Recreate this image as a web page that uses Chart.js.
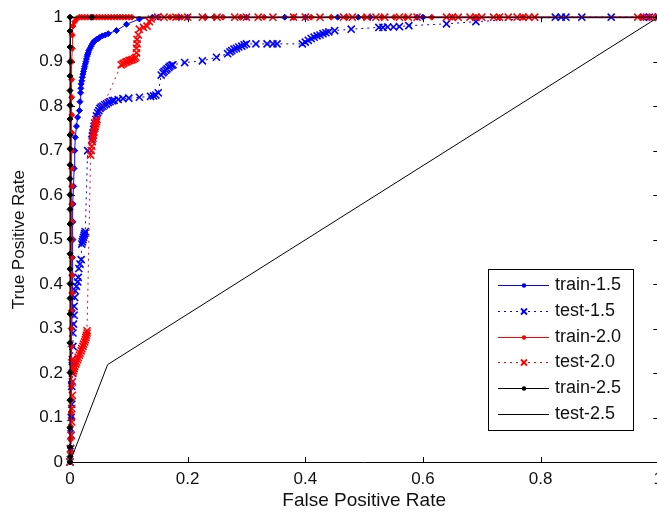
<!DOCTYPE html>
<html>
<head>
<meta charset="utf-8">
<title>ROC</title>
<script src="https://cdn.jsdelivr.net/npm/chart.js@4.4.1/dist/chart.umd.min.js"></script>
<style>
  html, body { margin: 0; padding: 0; background: #fff; overflow: hidden; }
  #wrap { position: relative; width: 670px; height: 518px; }
</style>
</head>
<body>
<div id="wrap"><canvas id="roc" width="670" height="518"></canvas></div>
<script>
// Axis ticks
const xTickValues = [0, 0.2, 0.4, 0.6, 0.8, 1];
const xTickLabels = ['0', '0.2', '0.4', '0.6', '0.8', '1'];
const yTickValues = [0, 0.1, 0.2, 0.3, 0.4, 0.5, 0.6, 0.7, 0.8, 0.9, 1];
const yTickLabels = ['0', '0.1', '0.2', '0.3', '0.4', '0.5', '0.6', '0.7', '0.8', '0.9', '1'];

const seriesNames = ['train-1.5', 'test-1.5', 'train-2.0', 'test-2.0', 'train-2.5', 'test-2.5'];

// ROC points as [false positive rate, true positive rate]
const rocTrain15 = [
  [0, 0], [0.001, 0.03], [0.001, 0.07], [0.002, 0.1], [0.002, 0.14], [0.002, 0.18],
  [0.003, 0.22], [0.003, 0.26], [0.003, 0.3], [0.004, 0.34], [0.004, 0.38], [0.004, 0.42],
  [0.004, 0.46], [0.005, 0.5], [0.005, 0.54], [0.005, 0.58], [0.006, 0.62], [0.007, 0.66],
  [0.008, 0.7], [0.009, 0.73], [0.011, 0.755], [0.013, 0.775], [0.016, 0.79], [0.017, 0.81],
  [0.018, 0.83], [0.0185, 0.84], [0.019, 0.85], [0.02, 0.857], [0.021, 0.865], [0.022, 0.872],
  [0.023, 0.878], [0.024, 0.884], [0.025, 0.889], [0.026, 0.895], [0.027, 0.9], [0.028, 0.906],
  [0.029, 0.912], [0.03, 0.916], [0.031, 0.92], [0.032, 0.925], [0.034, 0.93], [0.036, 0.935],
  [0.038, 0.94], [0.04, 0.944], [0.042, 0.947], [0.045, 0.95], [0.048, 0.952], [0.051, 0.955],
  [0.055, 0.958], [0.06, 0.96], [0.065, 0.963], [0.079, 0.97], [0.096, 0.984], [0.118, 0.996],
  [0.14, 1], [0.15, 1], [0.185, 1], [0.2, 1], [0.23, 1], [0.245, 1], [0.29, 1], [0.3, 1],
  [0.365, 1], [0.38, 1], [0.4, 1], [0.455, 1], [0.47, 1], [0.49, 1], [0.51, 1], [0.59, 1],
  [0.6, 1], [0.975, 1], [0.985, 1], [1, 1]
];
const rocTest15 = [
  [0, 0], [0.001, 0.03], [0.002, 0.06], [0.002, 0.1], [0.003, 0.13], [0.003, 0.17],
  [0.004, 0.2], [0.004, 0.23], [0.005, 0.26], [0.005, 0.29], [0.006, 0.31], [0.007, 0.33],
  [0.007, 0.35], [0.008, 0.37], [0.009, 0.385], [0.011, 0.395], [0.013, 0.405], [0.014, 0.415],
  [0.015, 0.435], [0.017, 0.445], [0.019, 0.455], [0.02, 0.49], [0.021, 0.495], [0.022, 0.5],
  [0.023, 0.505], [0.024, 0.51], [0.025, 0.514], [0.026, 0.518], [0.03, 0.7], [0.037, 0.725],
  [0.038, 0.733], [0.039, 0.74], [0.04, 0.748], [0.041, 0.755], [0.042, 0.762], [0.044, 0.77],
  [0.045, 0.778], [0.047, 0.785], [0.049, 0.79], [0.051, 0.795], [0.053, 0.798], [0.056, 0.8],
  [0.059, 0.803], [0.062, 0.805], [0.065, 0.808], [0.068, 0.81], [0.072, 0.812], [0.075, 0.813],
  [0.082, 0.815], [0.09, 0.817], [0.1, 0.818], [0.118, 0.82], [0.137, 0.822], [0.142, 0.823],
  [0.146, 0.825], [0.15, 0.83], [0.155, 0.87], [0.158, 0.875], [0.16, 0.878], [0.163, 0.881],
  [0.165, 0.884], [0.168, 0.887], [0.17, 0.89], [0.173, 0.892], [0.175, 0.893], [0.195, 0.898],
  [0.225, 0.902], [0.249, 0.91], [0.268, 0.918], [0.272, 0.922], [0.275, 0.925], [0.279, 0.928],
  [0.283, 0.93], [0.287, 0.933], [0.292, 0.935], [0.296, 0.938], [0.3, 0.94], [0.316, 0.94],
  [0.335, 0.94], [0.345, 0.94], [0.352, 0.94], [0.395, 0.94], [0.4, 0.944], [0.405, 0.948],
  [0.41, 0.952], [0.415, 0.955], [0.42, 0.958], [0.425, 0.96], [0.43, 0.963], [0.435, 0.965],
  [0.44, 0.967], [0.45, 0.97], [0.478, 0.973], [0.525, 0.977], [0.532, 0.977], [0.54, 0.978],
  [0.55, 0.978], [0.56, 0.979], [0.576, 0.981], [0.64, 0.985], [0.69, 0.99], [0.825, 1],
  [0.835, 1], [0.843, 1], [0.87, 1], [0.92, 1], [0.975, 1], [0.985, 1], [1, 1]
];
const rocTrain20 = [
  [0, 0], [0.001, 0.02], [0.001, 0.05], [0.001, 0.08], [0.002, 0.11], [0.002, 0.14],
  [0.002, 0.17], [0.002, 0.2], [0.002, 0.23], [0.002, 0.26], [0.002, 0.3], [0.002, 0.34],
  [0.003, 0.38], [0.003, 0.42], [0.003, 0.46], [0.003, 0.5], [0.003, 0.54], [0.003, 0.58],
  [0.003, 0.62], [0.003, 0.66], [0.003, 0.7], [0.003, 0.74], [0.003, 0.78], [0.003, 0.82],
  [0.003, 0.86], [0.003, 0.9], [0.004, 0.93], [0.004, 0.96], [0.005, 0.98], [0.008, 0.99],
  [0.012, 0.997], [0.016, 1], [0.02, 1], [0.025, 1], [0.03, 1], [0.035, 1], [0.04, 1],
  [0.045, 1], [0.05, 1], [0.055, 1], [0.06, 1], [0.065, 1], [0.07, 1], [0.075, 1], [0.08, 1],
  [0.085, 1], [0.09, 1], [0.095, 1], [0.1, 1], [0.105, 1], [0.17, 1], [0.18, 1], [0.19, 1],
  [0.23, 1], [0.245, 1], [0.26, 1], [0.29, 1], [0.33, 1], [0.38, 1], [0.41, 1], [0.444, 1],
  [0.47, 1], [0.5, 1], [0.53, 1], [0.551, 1], [0.57, 1], [0.615, 1], [0.65, 1], [0.69, 1],
  [0.73, 1], [0.77, 1], [0.97, 1], [1, 1]
];
const rocTest20 = [
  [0, 0], [0.001, 0.03], [0.002, 0.06], [0.003, 0.09], [0.003, 0.12], [0.004, 0.15],
  [0.004, 0.18], [0.005, 0.2], [0.006, 0.205], [0.007, 0.21], [0.008, 0.215], [0.01, 0.22],
  [0.011, 0.225], [0.013, 0.23], [0.014, 0.235], [0.016, 0.24], [0.017, 0.245], [0.019, 0.25],
  [0.02, 0.255], [0.022, 0.26], [0.023, 0.265], [0.025, 0.27], [0.026, 0.275], [0.027, 0.28],
  [0.028, 0.285], [0.029, 0.29], [0.029, 0.295], [0.035, 0.69], [0.036, 0.7], [0.037, 0.71],
  [0.038, 0.72], [0.039, 0.728], [0.04, 0.735], [0.041, 0.742], [0.042, 0.75], [0.043, 0.755],
  [0.044, 0.76], [0.045, 0.765], [0.046, 0.77], [0.087, 0.893], [0.09, 0.895], [0.092, 0.897],
  [0.095, 0.899], [0.097, 0.9], [0.1, 0.902], [0.102, 0.903], [0.105, 0.904], [0.107, 0.905],
  [0.11, 0.907], [0.112, 0.91], [0.113, 0.92], [0.113, 0.93], [0.114, 0.94], [0.114, 0.95],
  [0.116, 0.96], [0.118, 0.973], [0.125, 0.977], [0.131, 0.98], [0.135, 0.99], [0.138, 0.996],
  [0.149, 1], [0.16, 1], [0.18, 1], [0.2, 1], [0.225, 1], [0.25, 1], [0.28, 1], [0.3, 1],
  [0.32, 1], [0.345, 1], [0.38, 1], [0.4, 1], [0.425, 1], [0.465, 1], [0.48, 1], [0.505, 1],
  [0.52, 1], [0.535, 1], [0.56, 1], [0.575, 1], [0.59, 1], [0.64, 1], [0.65, 1], [0.66, 1],
  [0.68, 1], [0.69, 1], [0.7, 1], [0.72, 1], [0.73, 1], [0.745, 1], [0.76, 1], [0.77, 1],
  [0.78, 1], [0.79, 1], [0.965, 1], [0.98, 1], [0.99, 1], [1, 1]
];
const rocTrain25 = [
  [0, 0], [0, 0.012], [0, 0.034], [0, 0.077], [0, 0.139], [0, 0.201], [0, 0.268], [0, 0.333],
  [0, 0.368], [0, 0.401], [0, 0.434], [0, 0.468], [0, 0.501], [0, 0.535], [0, 0.568], [0, 0.601],
  [0, 0.637], [0, 0.668], [0, 0.704], [0, 0.735], [0, 0.771], [0, 0.802], [0, 0.835], [0, 0.868],
  [0, 0.9], [0, 0.933], [0, 0.969], [0, 1], [0.037, 1], [1, 1]
];
const rocTest25 = [[0, 0], [0.064, 0.219], [1, 1]];

const FONT = "'Liberation Sans', Arial, Helvetica, sans-serif";
const INK = '#111';

const toXY = pts => pts.map(p => ({ x: p[0], y: p[1] }));

function trainSet(label, pts, color, order) {
  return {
    label, data: toXY(pts), order,
    showLine: true, tension: 0, clip: false,
    borderColor: color, borderWidth: 1,
    pointStyle: 'rectRot', pointRadius: 3, pointHoverRadius: 3,
    pointBackgroundColor: color, pointBorderColor: color, pointBorderWidth: 1
  };
}
function testSet(label, pts, color, order) {
  return {
    label, data: toXY(pts), order,
    showLine: true, tension: 0, clip: false,
    borderColor: color, borderWidth: 1, borderDash: [2, 4],
    pointStyle: 'crossRot', pointRadius: 5, pointHoverRadius: 5,
    pointBackgroundColor: color, pointBorderColor: color, pointBorderWidth: 1.6
  };
}

const datasets = [
  trainSet(seriesNames[0], rocTrain15, '#0000ff', 6),
  testSet(seriesNames[1], rocTest15, '#0000ff', 5),
  trainSet(seriesNames[2], rocTrain20, '#ff0000', 4),
  testSet(seriesNames[3], rocTest20, '#ff0000', 3),
  trainSet(seriesNames[4], rocTrain25, '#000000', 2),
  {
    label: seriesNames[5], data: toXY(rocTest25), order: 1,
    showLine: true, tension: 0, clip: false,
    borderColor: '#000000', borderWidth: 1, pointRadius: 0, pointHoverRadius: 0
  }
];

// Boxed axes with inward tick marks on all four sides
const axesFrame = {
  id: 'axesFrame',
  beforeDatasetsDraw(chart) {
    const { ctx, chartArea: a, scales: { x, y } } = chart;
    const len = 5;
    ctx.save();
    ctx.strokeStyle = '#000';
    ctx.lineWidth = 1;
    ctx.beginPath();
    ctx.rect(a.left + 0.5, a.top + 0.5, a.right - a.left, a.bottom - a.top);
    x.ticks.forEach(t => {
      const px = Math.round(x.getPixelForValue(t.value)) + 0.5;
      ctx.moveTo(px, a.bottom); ctx.lineTo(px, a.bottom - len);
      ctx.moveTo(px, a.top); ctx.lineTo(px, a.top + len);
    });
    y.ticks.forEach(t => {
      const py = Math.round(y.getPixelForValue(t.value)) + 0.5;
      ctx.moveTo(a.left, py); ctx.lineTo(a.left + len, py);
      ctx.moveTo(a.right, py); ctx.lineTo(a.right - len, py);
    });
    ctx.stroke();
    ctx.restore();
  }
};

// Legend box in the lower right of the plot area
const legendBox = {
  id: 'legendBox',
  afterDraw(chart) {
    const ctx = chart.ctx;
    const bx = 488, by = 269, bw = 145, bh = 161;
    ctx.save();
    ctx.fillStyle = '#fff';
    ctx.fillRect(bx, by, bw, bh);
    ctx.strokeStyle = '#000';
    ctx.lineWidth = 1;
    ctx.strokeRect(bx + 0.5, by + 0.5, bw, bh);
    chart.data.datasets.forEach((ds, i) => {
      const yy = Math.round(285 + i * 25.8) + 0.5;
      ctx.strokeStyle = ds.borderColor;
      ctx.lineWidth = 1;
      ctx.setLineDash(ds.borderDash || []);
      ctx.beginPath();
      ctx.moveTo(498, yy);
      ctx.lineTo(549, yy);
      ctx.stroke();
      ctx.setLineDash([]);
      const mx = 524;
      if (ds.pointStyle === 'rectRot' && ds.pointRadius > 0) {
        ctx.fillStyle = ds.borderColor;
        ctx.beginPath();
        ctx.arc(mx, yy, 2.2, 0, Math.PI * 2);
        ctx.fill();
      } else if (ds.pointStyle === 'crossRot' && ds.pointRadius > 0) {
        ctx.lineWidth = 1.8;
        ctx.beginPath();
        ctx.moveTo(mx - 3, yy - 3); ctx.lineTo(mx + 3, yy + 3);
        ctx.moveTo(mx - 3, yy + 3); ctx.lineTo(mx + 3, yy - 3);
        ctx.stroke();
      }
      ctx.fillStyle = INK;
      ctx.font = '18px ' + FONT;
      ctx.textBaseline = 'middle';
      ctx.textAlign = 'left';
      ctx.fillText(ds.label, 555, yy);
    });
    ctx.restore();
  }
};

new Chart(document.getElementById('roc'), {
  type: 'scatter',
  data: { datasets },
  options: {
    responsive: false,
    animation: false,
    devicePixelRatio: 1,
    layout: { padding: { top: 13, right: 11, left: 0, bottom: 0 } },
    plugins: { legend: { display: false }, tooltip: { enabled: false } },
    scales: {
      x: {
        type: 'linear', min: 0, max: 1,
        afterBuildTicks: s => { s.ticks = xTickValues.map(v => ({ value: v })); },
        afterFit: s => { s.height = 56; },
        grid: { display: false, drawTicks: false },
        border: { display: false },
        ticks: {
          padding: 7, color: INK, maxRotation: 0, autoSkip: false,
          font: { family: FONT, size: 17 },
          callback: (v, i) => xTickLabels[i]
        },
        title: {
          display: true, text: 'False Positive Rate', color: INK,
          font: { family: FONT, size: 19 }, padding: { top: 0, bottom: 6 }
        }
      },
      y: {
        type: 'linear', min: 0, max: 1,
        afterBuildTicks: s => { s.ticks = yTickValues.map(v => ({ value: v })); },
        afterFit: s => { s.width = 70; },
        grid: { display: false, drawTicks: false },
        border: { display: false },
        ticks: {
          padding: 7, color: INK, autoSkip: false,
          font: { family: FONT, size: 17 },
          callback: (v, i) => yTickLabels[i]
        },
        title: {
          display: true, text: 'True Positive Rate', color: INK,
          font: { family: FONT, size: 17 }, padding: { top: 9, bottom: 0 }
        }
      }
    }
  },
  plugins: [axesFrame, legendBox]
});
</script>
</body>
</html>
